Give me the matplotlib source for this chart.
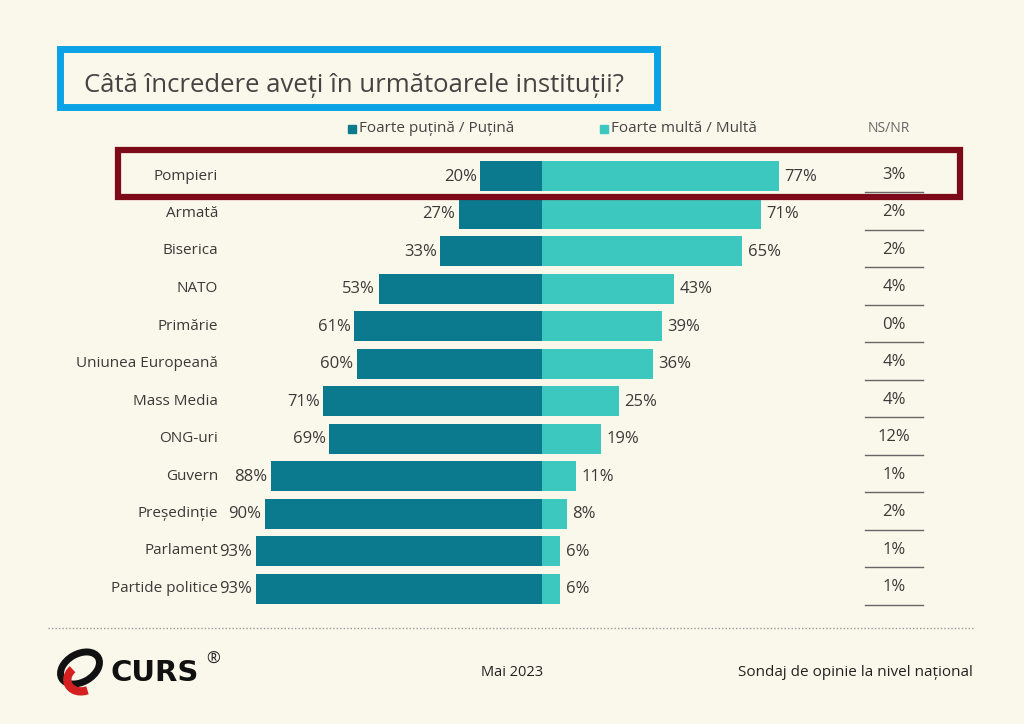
import matplotlib
matplotlib.use("Agg")
import matplotlib.pyplot as plt
from matplotlib.patches import Rectangle, Ellipse, Arc

categories = ["Pompieri", "Armată", "Biserica", "NATO", "Primărie", "Uniunea Europeană",
              "Mass Media", "ONG-uri", "Guvern", "Președinție", "Parlament", "Partide politice"]
low_trust = [20, 27, 33, 53, 61, 60, 71, 69, 88, 90, 93, 93]
high_trust = [77, 71, 65, 43, 39, 36, 25, 19, 11, 8, 6, 6]
ns_nr = [3, 2, 2, 4, 0, 4, 4, 12, 1, 2, 1, 1]
legend_labels = ["Foarte puțină / Puțină", "Foarte multă / Multă"]
title = "Câtă încredere aveți în următoarele instituții?"

BG = "#FAF8EA"
DARK = "#0C7A8E"
LIGHT = "#3CC8BE"
TXT = "#3a3a3a"
FONT = ["Open Sans", "DejaVu Sans"]
plt.rcParams['font.family'] = FONT

W, H = 1024, 724
fig = plt.figure(figsize=(W / 100, H / 100), dpi=100, facecolor=BG)

# pixel mapping
X0, SX = 542.0, 3.08
Y0, SY = 176.0, 37.5

ax = fig.add_axes([0, 0, 1, 1], facecolor="none")
ax.set_xlim(-X0 / SX, (W - X0) / SX)
ax.set_ylim((H - Y0) / SY, -Y0 / SY)
ax.axis("off")

ypos = list(range(len(categories)))
bh = 30 / SY
ax.barh(ypos, [-v for v in low_trust], height=bh, color=DARK, zorder=2)
ax.barh(ypos, high_trust, height=bh, color=LIGHT, zorder=2)

lab_x = (218 - X0) / SX
for i, (c, lo, hi, ns) in enumerate(zip(categories, low_trust, high_trust, ns_nr)):
    ax.text(lab_x, i, c, ha="right", va="center", fontsize=11, color=TXT, zorder=3)
    ax.text(-lo - 1.2, i + 0.02, f"{lo}%", ha="right", va="center", fontsize=12, color=TXT, zorder=3)
    ax.text(hi + 1.8, i + 0.02, f"{hi}%", ha="left", va="center", fontsize=12, color=TXT, zorder=3)
    nx = (894 - X0) / SX
    ax.text(nx, i - 0.03, f"{ns}%", ha="center", va="center", fontsize=12, color=TXT, zorder=3)
    ax.plot([(865 - X0) / SX, (923 - X0) / SX], [i + 0.43, i + 0.43], color="#666666", lw=1.0)

# overlay axes in pixel coords
ov = fig.add_axes([0, 0, 1, 1], facecolor="none")
ov.set_xlim(0, W)
ov.set_ylim(H, 0)
ov.axis("off")

# title box
ov.add_patch(Rectangle((60, 49), 597, 58, fill=False, ec="#0BA3E6", lw=5, zorder=4))
ov.text(84, 86, title, ha="left", va="center", fontsize=18.5, color="#444444")

# highlight box
ov.add_patch(Rectangle((117.5, 149.5), 842, 47, fill=False, ec="#7C0A19", lw=4.5, zorder=4))

# legend
ov.add_patch(Rectangle((348, 125), 8, 8, color=DARK))
ov.text(359, 129, legend_labels[0], ha="left", va="center", fontsize=11, color="#444444")
ov.add_patch(Rectangle((600, 125), 8, 8, color=LIGHT))
ov.text(611, 129, legend_labels[1], ha="left", va="center", fontsize=11, color="#444444")
ov.text(889, 128, "NS/NR", ha="center", va="center", fontsize=10, color="#666666")

# dotted line
ov.plot([48, 975], [628, 628], color="#999999", lw=1, ls=(0, (1, 1.5)))

# footer
ov.text(512, 673, "Mai 2023", ha="center", va="center", fontsize=10.5, color="#222222")
ov.text(973, 673, "Sondaj de opinie la nivel național", ha="right", va="center", fontsize=11, color="#222222")

# logo
ov.add_patch(Ellipse((80, 668), 42, 28, angle=-30, fill=False, ec="#111111", lw=5, zorder=5))
ov.add_patch(Arc((83, 678), 32, 26, angle=-20, theta1=90, theta2=240, ec="#D42020", lw=6, zorder=6))
ov.text(111, 673, "CURS", ha="left", va="center", fontsize=21, fontweight="black",
        color="#111111", family=["DejaVu Sans"])
ov.text(213, 660, "®", ha="center", va="center", fontsize=12, color="#222222")

fig.savefig("out.png", dpi=100, facecolor=BG)
